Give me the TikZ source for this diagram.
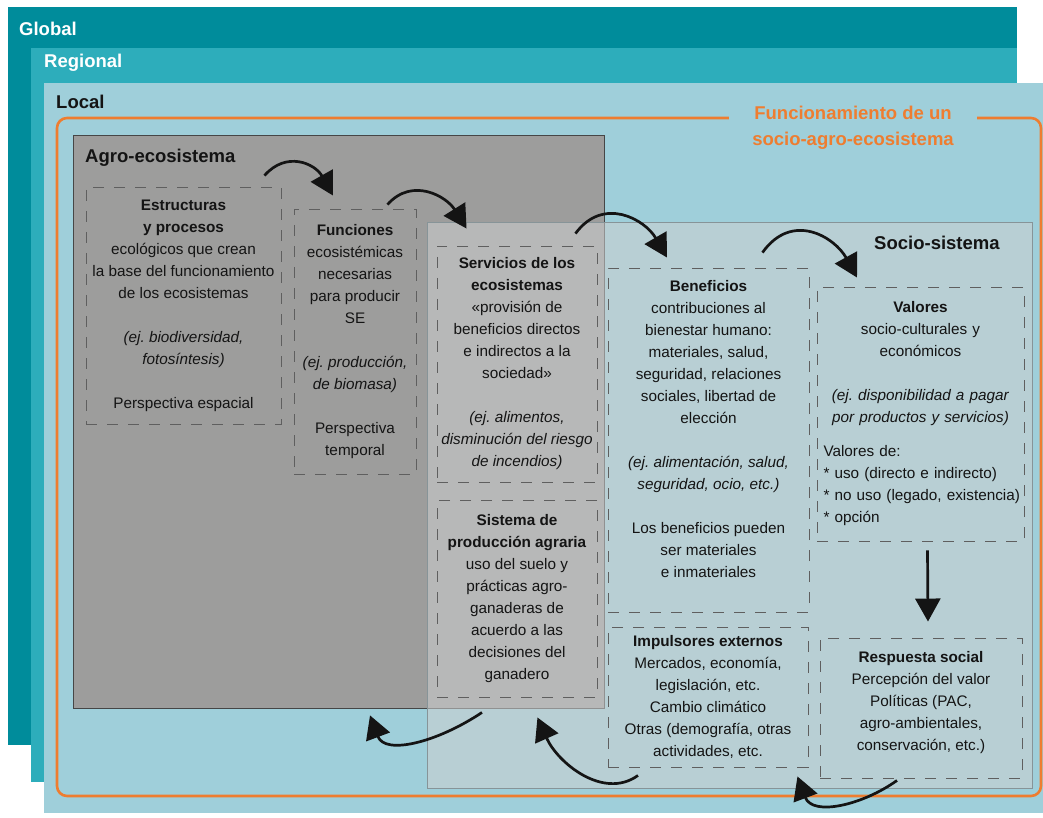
\documentclass[tikz,border=0pt]{standalone}
\usepackage{fontspec}
\setmainfont{Liberation Sans}
\usetikzlibrary{arrows.meta}
\definecolor{globalc}{RGB}{0,140,155}
\definecolor{regionc}{RGB}{45,173,187}
\definecolor{localc}{RGB}{159,207,218}
\definecolor{agroc}{RGB}{157,157,156}
\definecolor{socioc}{RGB}{205,207,208}
\definecolor{framec}{RGB}{238,125,48}
\definecolor{ink}{RGB}{20,20,20}
\definecolor{dashc}{RGB}{95,95,95}
\newcommand\boxfont{\fontsize{15.3}{22}\selectfont\frenchspacing}
\newcommand\headfont{\fontsize{18.5}{26}\selectfont\bfseries}

\begin{document}
\begin{tikzpicture}[x=1pt,y=-1pt,
  box/.style={draw=dashc,line width=0.9pt,dash pattern=on 11pt off 10pt,align=center,inner xsep=2pt,font=\boxfont,text=ink},
  head/.style={font=\headfont,inner sep=0pt,anchor=west},
  flow/.style={draw=ink,line width=2.7pt,-{Triangle[length=23pt,width=25pt]}}]
\fill[white] (0,0) rectangle (1043,813);
% niveles
\fill[globalc] (8,7) rectangle (1017,745);
\fill[regionc] (31,48) rectangle (1017,782);
\fill[localc] (44,83) rectangle (1043,813);
\node[head,text=white] (lglobal) at (19,29) {Global};
\node[head,text=white] (lregion) at (44,63) {Regional};
\node[head,text=ink] (llocal) at (56,102) {Local};
\draw[framec,line width=2.6pt,rounded corners=10pt] (57,118) rectangle (1041,796);
\node[font=\headfont,text=framec,fill=localc,minimum width=248pt,inner ysep=2pt,align=center] (titulo) at (853,128) {Funcionamiento de un\\socio-agro-ecosistema};

% sistemas
\node[draw={rgb,255:red,70;green,70;blue,70},line width=0.8pt,fill=agroc,minimum width=531pt,minimum height=573pt] (agro) at (338.5,421.5) {};
\node[draw={rgb,255:red,135;green,148;blue,152},line width=0.8pt,fill=socioc,fill opacity=0.55,minimum width=605pt,minimum height=566pt] (socio) at (729.5,505) {};
\node[head,text=ink] (lagro) at (85,158) {Agro-ecosistema};
\node[head,text=ink] (lsocio) at (874,243) {Socio-sistema};

% cajas
\node[box,minimum width=195pt,minimum height=237pt] (estr) at (183.5,305.5) {\textbf{Estructuras}\\\textbf{y procesos}\\ecológicos que crean\\la base del funcionamiento\\de los ecosistemas\\[22pt]\textit{(ej. biodiversidad,}\\\textit{fotosíntesis)}\\[22pt]Perspectiva espacial};
\node[box,minimum width=122pt,minimum height=265pt] (func) at (355,341.5) {\textbf{Funciones}\\ecosistémicas\\necesarias\\para producir\\SE\\[22pt]\textit{(ej. producción,}\\\textit{de biomasa)}\\[22pt]Perspectiva\\temporal};
\node[box,minimum width=160pt,minimum height=236pt] (serv) at (517,364) {\textbf{Servicios de los}\\\textbf{ecosistemas}\\«provisión de\\beneficios directos\\e indirectos a la\\sociedad»\\[22pt]\textit{(ej. alimentos,}\\\textit{disminución del riesgo}\\\textit{de incendios)}};
\node[box,minimum width=201pt,minimum height=344pt] (benef) at (708.5,440) {\textbf{Beneficios}\\contribuciones al\\bienestar humano:\\materiales, salud,\\seguridad, relaciones\\sociales, libertad de\\elección\\[22pt]\textit{(ej. alimentación, salud,}\\\textit{seguridad, ocio, etc.)}\\[22pt]Los beneficios pueden\\ser materiales\\e inmateriales\\\mbox{}};
\node[box,minimum width=207pt,minimum height=254pt,text width=194pt,align=left] (valor) at (920.5,414) {\centering\textbf{Valores}\\socio-culturales y\\económicos\\[22pt]\textit{(ej. disponibilidad a pagar}\\\textit{por productos y servicios)}\par\vspace{12pt}\raggedright Valores de:\\{}* uso (directo e indirecto)\\\mbox{* no uso (legado, existencia)}\\{}* opción\par};
\node[box,minimum width=160pt,minimum height=197pt] (sist) at (517,598.5) {\textbf{Sistema de}\\\textbf{producción agraria}\\uso del suelo y\\prácticas agro-\\ganaderas de\\acuerdo a las\\decisiones del\\ganadero};
\node[box,minimum width=200pt,minimum height=140pt] (impul) at (708,697) {\textbf{Impulsores externos}\\Mercados, economía,\\legislación, etc.\\Cambio climático\\Otras (demografía, otras\\actividades, etc.};
\node[box,minimum width=202pt,minimum height=140pt] (resp) at (921,708) {\textbf{Respuesta social}\\Percepción del valor\\Políticas (PAC,\\agro-ambientales,\\conservación, etc.)\\[-7pt]\mbox{}};

% flujos
\draw[flow] ([shift={(-17,-11)}]estr.north east) .. controls +(22,-25) and +(-18,-32) .. ([shift={(-22,-13)}]func.north);
\draw[flow] ([shift={(-29,-4)}]func.north east) .. controls +(25,-28) and +(-20,-32) .. ([shift={(30,-17)}]serv.north west);
\draw[flow] ([shift={(-22,-12)}]serv.north east) .. controls +(28,-38) and +(-22,-38) .. ([shift={(-41.5,-10)}]benef.north);
\draw[flow] ([shift={(-47,-15)}]benef.north east) .. controls +(30,-42) and +(-22,-40) .. ([shift={(-63.5,-9)}]valor.north);
\draw[flow] ([shift={(7,9)}]valor.south) -- ([shift={(7,-16)}]resp.north);
\draw[flow] ([shift={(-24,2)}]resp.south) .. controls +(-35,25) and +(15,40) .. ([shift={(-11,9)}]impul.south east);
\draw[flow] ([shift={(-70,8)}]impul.south) .. controls +(-35,25) and +(20,45) .. ([shift={(-60,20)}]sist.south east);
\draw[flow] ([shift={(-35,15)}]sist.south) .. controls +(-45,30) and +(15,40) .. ([shift={(31.5,7)}]agro.south);
\end{tikzpicture}
\end{document}
